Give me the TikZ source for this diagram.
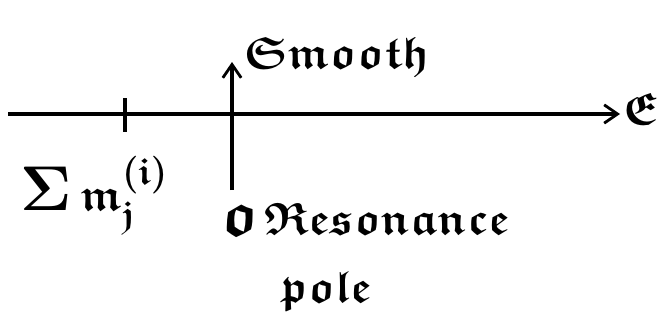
\documentclass[tikz,border=0pt]{standalone}
\usepackage{amsmath}
\usepackage{amssymb}
\usepackage{graphicx}
\usepackage{tikz}
\usetikzlibrary{arrows.meta,positioning}

\newcommand{\frk}[1]{\ensuremath{\mathfrak{#1}}}

\begin{document}
\begin{tikzpicture}[
  x=0.03cm, y=-0.03cm,
  >={Straight Barb[length=4mm,width=5.5mm,line width=2.4pt]},
  axis/.style={->, line width=3pt},
  tickmark/.style={line width=3.2pt},
  goth/.style={font=\fontsize{24.88}{28}\selectfont\boldmath, inner sep=0pt,
    scale=1.55, transform shape},
  marker/.style={goth, scale=1.4}
]
\useasboundingbox (0,0) rectangle (661,336);

% energy axis
\coordinate (west) at (8,114);
\coordinate (east) at (620,114);
\draw[axis] (west) -- (east);
\node[goth, anchor=base west] (E) at (623,124) {\frk{E}};

% threshold tick
\coordinate (tick) at (125,114);
\draw[tickmark] (125,98) -- (125,132);
\node[goth, anchor=base west] (sum) at (20,210)
  {\scalebox{1.4}{$\Sigma$}$\,\mathfrak{m}^{(\mathfrak{i})}_{\mathfrak{j}}$};

% pole and smooth part
\node[marker] (pole) at (240,220) {\frk{o}};
\coordinate (base) at (232,190);
\coordinate (top) at (232,62);
\draw[axis] (base) -- (top);
\node[goth, anchor=base west] (smooth) at (243,68) {\frk{Smooth}};
\node[goth, anchor=base west] (reso) at (264,234) {\frk{Resonance}};
\node[goth, anchor=base west] (polelbl) at (280,302) {\frk{pole}};
\end{tikzpicture}
\end{document}
